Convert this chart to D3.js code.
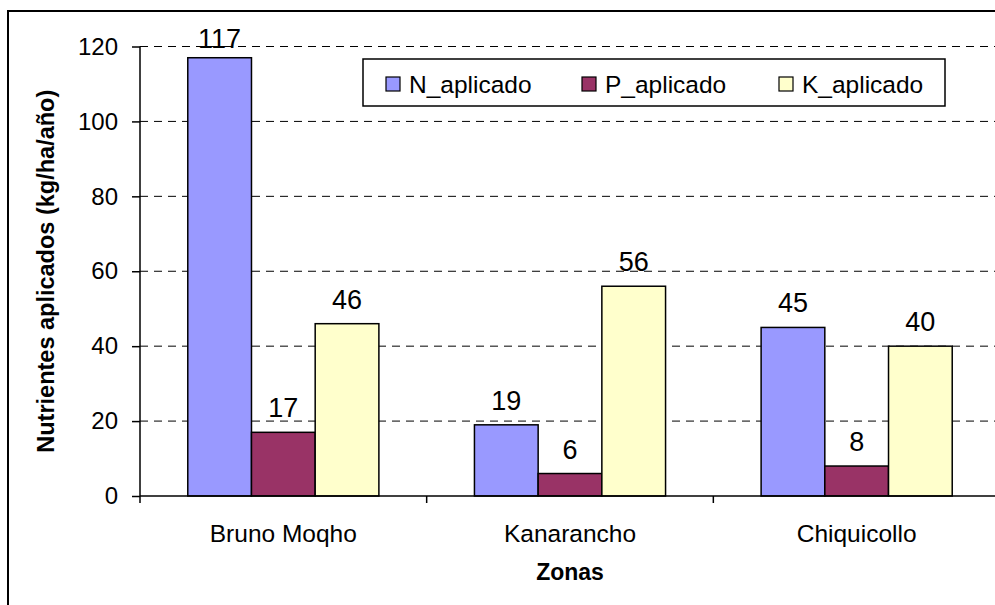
<!DOCTYPE html>
<html>
<head>
<meta charset="utf-8">
<script src="https://cdn.jsdelivr.net/npm/d3@7"></script>
<style>
  html, body { margin: 0; padding: 0; background: #fff; }
  svg { display: block; font-family: "Liberation Sans", Arial, sans-serif; }
</style>
</head>
<body>
<svg id="chart" width="995" height="605"></svg>
<script>
const categories = ["Bruno Moqho", "Kanarancho", "Chiquicollo"];
const seriesNames = ["N_aplicado", "P_aplicado", "K_aplicado"];
const N_aplicado = [117, 19, 45];
const P_aplicado = [17, 6, 8];
const K_aplicado = [46, 56, 40];
const yTicks = [0, 20, 40, 60, 80, 100, 120];
const colors = ["#9999FF", "#993366", "#FFFFCC"];

(function () {
const seriesValues = [N_aplicado, P_aplicado, K_aplicado];
const svg = d3.select("#chart");

// outer border
svg.append("rect").attr("x", 8).attr("y", 11).attr("width", 1000).attr("height", 600)
  .attr("fill", "none").attr("stroke", "#000").attr("stroke-width", 2);

const pLeft = 140, pRight = 1000, pTop = 46.5, pBottom = 496;

const x0 = d3.scaleBand().domain(categories).range([pLeft, pRight]).paddingInner(0).paddingOuter(0);
const x1 = d3.scaleBand().domain(seriesNames).range([0, x0.bandwidth()]).paddingInner(0).paddingOuter(0.75);
const y = d3.scaleLinear().domain([0, 120]).range([pBottom, pTop]);

// gridlines
svg.append("g").selectAll("line").data(yTicks.filter(d => d > 0)).join("line")
  .attr("x1", pLeft).attr("x2", pRight)
  .attr("y1", d => y(d)).attr("y2", d => y(d))
  .attr("stroke", "#000").attr("stroke-width", 1).attr("stroke-dasharray", "8,6");

// bars
const groups = svg.append("g").selectAll("g").data(categories).join("g")
  .attr("transform", c => `translate(${x0(c)},0)`);

groups.selectAll("rect").data((c, i) => seriesNames.map((s, j) => ({s, j, v: seriesValues[j][i]})))
  .join("rect")
  .attr("x", d => x1(d.s))
  .attr("width", x1.bandwidth())
  .attr("y", d => y(d.v))
  .attr("height", d => y(0) - y(d.v))
  .attr("fill", d => colors[d.j])
  .attr("stroke", "#000").attr("stroke-width", 1.5);

groups.selectAll("text").data((c, i) => seriesNames.map((s, j) => ({s, j, v: seriesValues[j][i]})))
  .join("text")
  .attr("x", d => x1(d.s) + x1.bandwidth() / 2)
  .attr("y", d => Math.max(y(d.v) - 15, 48))
  .attr("text-anchor", "middle")
  .attr("font-size", 27)
  .attr("fill", "#000")
  .text(d => d.v);

// y axis
const yAxis = d3.axisLeft(y).tickValues(yTicks).tickSize(8).tickPadding(14).tickFormat(d3.format("d"));
const yg = svg.append("g").attr("transform", `translate(${pLeft},0)`).call(yAxis);
yg.select(".domain").attr("stroke", "#000").attr("stroke-width", 1.5).attr("d", `M0,${pTop}V${pBottom}`);
yg.selectAll(".tick line").attr("stroke", "#000").attr("stroke-width", 1.5);
yg.selectAll(".tick text").attr("font-size", 24).attr("font-family", "Liberation Sans, Arial, sans-serif").attr("fill", "#000");

// x axis
const xg = svg.append("g");
xg.append("line").attr("x1", pLeft).attr("x2", pRight).attr("y1", pBottom).attr("y2", pBottom)
  .attr("stroke", "#000").attr("stroke-width", 1.5);
xg.selectAll("line.tk").data(categories).join("line").attr("class", "tk")
  .attr("x1", c => x0(c)).attr("x2", c => x0(c)).attr("y1", pBottom).attr("y2", pBottom + 7)
  .attr("stroke", "#000").attr("stroke-width", 1.5);
xg.selectAll("text").data(categories).join("text")
  .attr("x", c => x0(c) + x0.bandwidth() / 2)
  .attr("y", 542)
  .attr("text-anchor", "middle").attr("font-size", 24.5).attr("fill", "#000")
  .text(c => c);

// axis titles
svg.append("text").attr("x", 570).attr("y", 580).attr("text-anchor", "middle")
  .attr("font-size", 23).attr("font-weight", "bold").text("Zonas");
svg.append("text").attr("transform", `translate(54,${(pTop + pBottom) / 2}) rotate(-90)`)
  .attr("text-anchor", "middle").attr("font-size", 23.5).attr("font-weight", "bold")
  .text("Nutrientes aplicados (kg/ha/año)");

// legend
const lg = svg.append("g");
lg.append("rect").attr("x", 363).attr("y", 59).attr("width", 582).attr("height", 47)
  .attr("fill", "#fff").attr("stroke", "#000").attr("stroke-width", 1.5);
const legX = [386, 582, 779];
const items = lg.selectAll("g").data(seriesNames).join("g")
  .attr("transform", (d, i) => `translate(${legX[i]},0)`);
items.append("rect").attr("x", 0).attr("y", 77).attr("width", 14).attr("height", 14)
  .attr("fill", (d, i) => colors[i]).attr("stroke", "#000").attr("stroke-width", 1.2);
items.append("text").attr("x", 23).attr("y", 93).attr("font-size", 24.5).attr("fill", "#000").text(d => d);
})();
</script>
</body>
</html>
